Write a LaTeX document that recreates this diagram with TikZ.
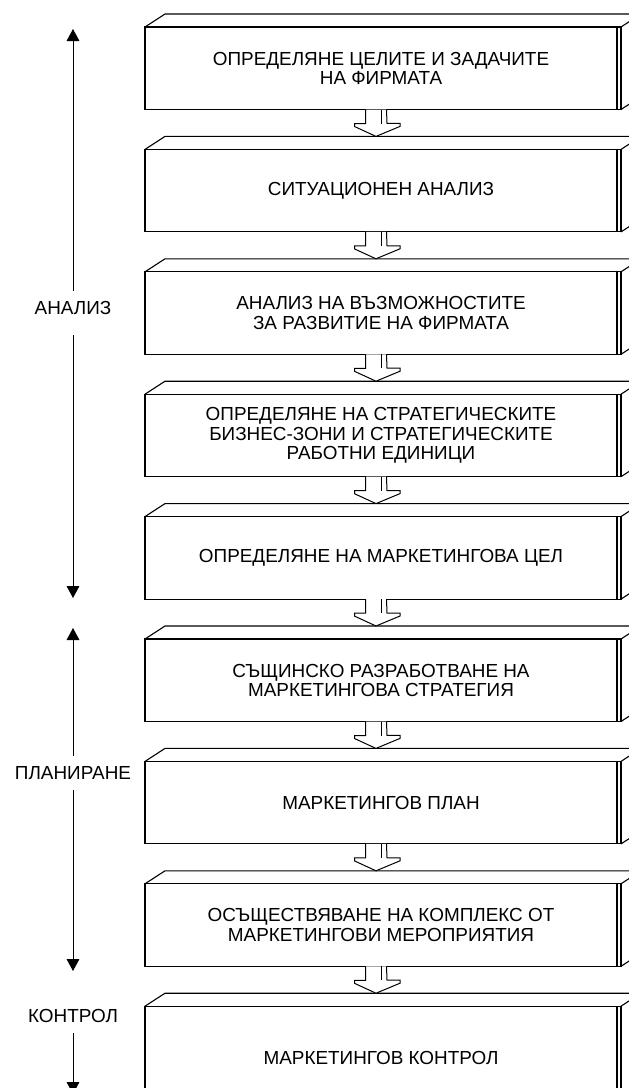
\documentclass[tikz,border=0pt]{standalone}
\usepackage{fontspec}
\setmainfont{Liberation Sans}
\usetikzlibrary{positioning,arrows.meta,calc}
\tikzstyle{stage} = [
rectangle,
draw=black,
line width=1.1pt,
outer sep=0pt,
minimum width=472pt,
minimum height=82.5pt,
align=center,
font=\fontsize{18.9}{19.5}\selectfont
]
\tikzstyle{phase} = [
font=\fontsize{18.9}{19.5}\selectfont,
inner xsep=0pt,
inner ysep=10pt
]
\tikzstyle{side} = [
line width=1pt,
-{Triangle[width=12.7pt,length=12pt]}
]
\tikzstyle{flow} = [
line width=1pt,
fill=white,
line join=miter
]

\begin{document}
\begin{tikzpicture}[
	x=1pt,
	y=-1pt,
	node distance=39.9pt,
	line width=1.1pt
	]
	\useasboundingbox (0,0) rectangle (629,1088);
	\clip (0,0) rectangle (629,1088);
	
	\node[stage] (s1) at (381,68.25) {ОПРЕДЕЛЯНЕ ЦЕЛИТЕ И ЗАДАЧИТЕ\\НА ФИРМАТА};
	\node[stage,below=of s1] (s2) {СИТУАЦИОНЕН АНАЛИЗ};
	\node[stage,below=of s2] (s3) {АНАЛИЗ НА ВЪЗМОЖНОСТИТЕ\\ЗА РАЗВИТИЕ НА ФИРМАТА};
	\node[stage,below=of s3] (s4) {ОПРЕДЕЛЯНЕ НА СТРАТЕГИЧЕСКИТЕ\\БИЗНЕС-ЗОНИ И СТРАТЕГИЧЕСКИТЕ\\РАБОТНИ ЕДИНИЦИ};
	\node[stage,below=of s4] (s5) {ОПРЕДЕЛЯНЕ НА МАРКЕТИНГОВА ЦЕЛ};
	\node[stage,below=of s5] (s6) {СЪЩИНСКО РАЗРАБОТВАНЕ НА\\МАРКЕТИНГОВА СТРАТЕГИЯ};
	\node[stage,below=of s6] (s7) {МАРКЕТИНГОВ ПЛАН};
	\node[stage,below=of s7] (s8) {ОСЪЩЕСТВЯВАНЕ НА КОМПЛЕКС ОТ\\МАРКЕТИНГОВИ МЕРОПРИЯТИЯ};
	\node[stage,below=of s8,minimum height=104pt] (s9) {МАРКЕТИНГОВ КОНТРОЛ};
	
	% box depth
	\foreach \s in {s1,s2,s3,s4,s5,s6,s7,s8,s9} {
		\draw (\s.north west) -- ++(20,-13) -- ([shift={(44,-13)}]\s.north east);
		\draw (\s.north east) -- ([xshift=4pt]\s.north east) -- ([xshift=4pt]\s.south east) -- (\s.south east);
		\draw ([xshift=4pt]\s.north east) -- ++(20,-13);
		\draw ([xshift=4pt]\s.south east) -- ++(20,-13);
	}
	
	% block arrows
	\foreach \a/\b in {s1/s2,s2/s3,s3/s4,s4/s5,s5/s6,s6/s7,s7/s8,s8/s9} {
		\draw[flow] ([xshift=-15.5pt]\a.south) -- ++(0,14) -- ++(-11,0) -- ++(0,3)
			-- ([xshift=-5pt,yshift=13pt]\b.north) -- ++(24,-10) -- ++(0,-3) -- ++(-13,0)
			-- ([xshift=5.5pt]\a.south);
		\draw[line width=1pt] ([xshift=0.5pt]\a.south) -- ++(0,14);
	}
	
	% phases
	\node[phase] (analiz) at (73,308) {АНАЛИЗ};
	\node[phase] (plan) at (73,773) {ПЛАНИРАНЕ};
	\node[phase] (kontrol) at (73,1016) {КОНТРОЛ};
	\coordinate (analiztop) at (73,29);
	\coordinate (analizbot) at (73,598);
	\coordinate (plantop) at (73,628);
	\coordinate (planbot) at (73,971);
	\coordinate (kontrolbot) at (73,1094);
	
	\draw[side] (analiz) -- (analiztop);
	\draw[side,shorten <=10pt] (analiz) -- (analizbot);
	\draw[side] (plan) -- (plantop);
	\draw[side] (plan) -- (planbot);
	\draw[side] (kontrol) -- (kontrolbot);
\end{tikzpicture}
\end{document}
